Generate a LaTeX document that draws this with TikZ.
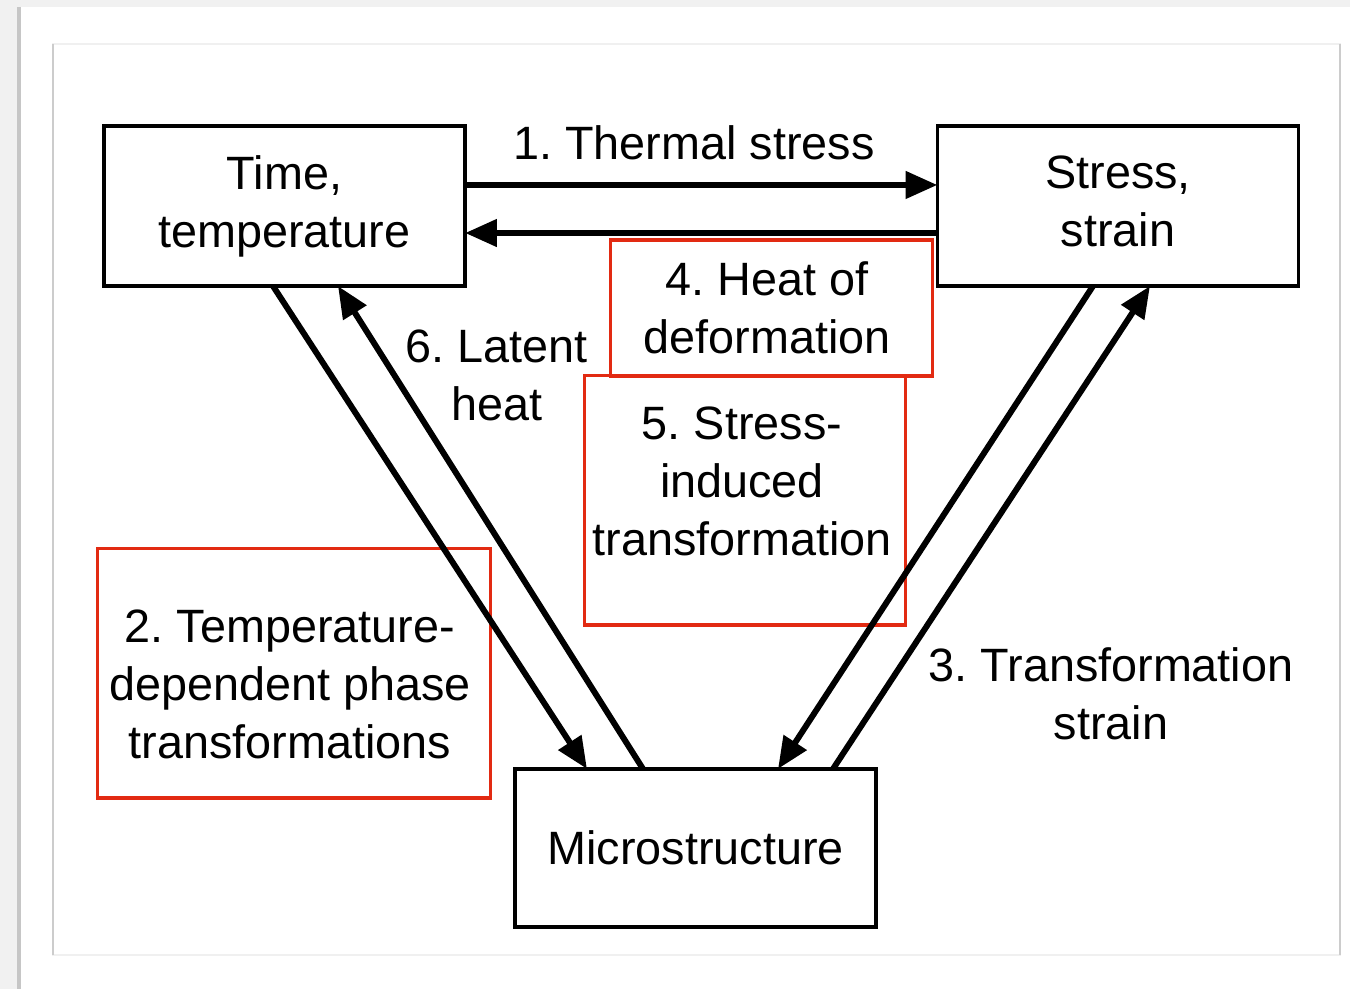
\documentclass[tikz,border=0pt]{standalone}
\usepackage{fontspec}
\setmainfont{Liberation Sans}
\usetikzlibrary{arrows.meta}
\usetikzlibrary{calc}

\definecolor{hlred}{RGB}{226,42,18}
\definecolor{pagegray}{RGB}{241,241,241}
\frenchspacing

\begin{document}
\begin{tikzpicture}[x=0.01cm,y=0.01cm,
    font=\fontsize{13.3}{16.5}\selectfont,
    box/.style={draw,line width=1pt,minimum width=3.61cm,
        minimum height=1.6cm,inner sep=0pt,outer sep=0pt,align=center},
    redbox/.style={draw=hlred,line width=0.9pt,inner sep=0pt,outer sep=0pt},
    lbl/.style={align=center,inner sep=0pt},
    link/.style={line width=1.7pt,-{Triangle[length=9pt,width=7.5pt]}}]

        \useasboundingbox (0,0) rectangle (1350,-989);
        \fill[pagegray] (0,0) rectangle (1350,-989);
        \fill[white] (19,-7) rectangle (1350,-989);
        \draw[gray!45,line width=1pt] (19,-7) -- (19,-989);
        \draw[gray!12,line width=0.6pt] (53,-44) rectangle (1340,-955);
        \draw[gray!40,line width=0.6pt] (53,-44) -- (53,-955)
            (1340,-44) -- (1340,-955);

        \node[box] (time) at (284.5,-206) {Time,\\temperature};
        \node[box] (stress) at (1118,-206) {Stress,\\strain\vphantom{p}};
        \node[box,minimum height=1.58cm] (micro) at (695.5,-848) {Microstructure};

        \node[redbox,minimum width=3.21cm,minimum height=1.36cm] (hl4) at (771.5,-308) {};
        \node[redbox,minimum width=3.20cm,minimum height=2.49cm] (hl5) at (745,-500.5) {};
        \node[redbox,minimum width=3.92cm,minimum height=2.49cm] (hl2) at (294,-673.5) {};

        \node[lbl] (thermal) at (694,-143) {1. Thermal stress};
        \node[lbl] (latent) at (497,-375) {6. Latent\\heat};
        \node[lbl] (heatdef) at (767,-308) {4. Heat of\\deformation};
        \node[lbl] (sitrans) at (742,-481) {5. Stress-\\induced\\transformation};
        \node[lbl] (tdtrans) at (290,-684) {2. Temperature-\\dependent phase\\transformations};
        \node[lbl] (trstrain) at (1111,-694) {3. Transformation\\strain};

        \draw[link] ([yshift=0.21cm]time.east) -- ([yshift=0.21cm]stress.west);
        \draw[link] ([yshift=-0.27cm]stress.west) -- ([yshift=-0.27cm]time.east);
        \foreach \s/\ss/\t/\ts in {
        time.south/-11.5/micro.north/-108.5,
        micro.north/-52.5/time.south/53.5,
        stress.south/-25/micro.north/82.5,
        micro.north/137.5/stress.south/32} {
        \draw[link] ([xshift=\ss*0.01cm]\s) -- ([xshift=\ts*0.01cm]\t);
        }
    \end{tikzpicture}
\end{document}
